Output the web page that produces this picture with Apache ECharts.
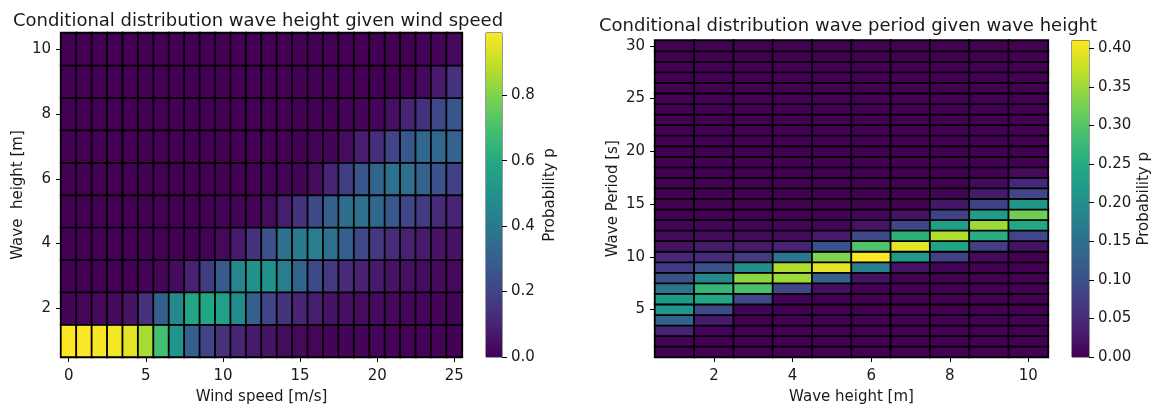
<!DOCTYPE html>
<html><head><meta charset="utf-8">
<script src="https://cdn.jsdelivr.net/npm/echarts@6/dist/echarts.min.js"></script>
<style>html,body{margin:0;padding:0;background:#fff}#c{width:1153px;height:406px}</style>
</head><body><div id="c"></div>
<script>
// ---------- data ----------
const windSpeeds = [0,1,2,3,4,5,6,7,8,9,10,11,12,13,14,15,16,17,18,19,20,21,22,23,24,25];
const waveHeightsL = [1,2,3,4,5,6,7,8,9,10];
const windTickLabels = [0,5,10,15,20,25];
const heightTickLabelsL = [2,4,6,8,10];

const waveHeightsR = [1,2,3,4,5,6,7,8,9,10];
const wavePeriods = [1,2,3,4,5,6,7,8,9,10,11,12,13,14,15,16,17,18,19,20,21,22,23,24,25,26,27,28,29,30];
const heightTickLabelsR = [2,4,6,8,10];
const periodTickLabels = [5,10,15,20,25,30];

const cbTicksL = [0,0.2,0.4,0.6,0.8];
const cbTicksR = [0,0.05,0.10,0.15,0.20,0.25,0.30,0.35,0.40];

// P(wave height | wind speed): one row per wave height (1..10), columns = wind speed 0..25
const pHeightGivenWind = [
  [0.99,0.985,0.98,0.975,0.95,0.86,0.69,0.51,0.30,0.20, 0.14,0.10,0.07,0.05,0.03,0.02,0.015,0.012,0.01,0.01, 0.008,0.007,0.006,0.005,0.005,0.004],
  [0.01,0.015,0.02,0.025,0.05,0.14,0.30,0.46,0.58,0.59, 0.56,0.47,0.30,0.20,0.15,0.10,0.08,0.05,0.04,0.03, 0.025,0.02,0.015,0.012,0.01,0.01],
  [0,0,0,0,0,0.005,0.01,0.03,0.09,0.18, 0.28,0.45,0.50,0.50,0.42,0.32,0.22,0.16,0.12,0.09, 0.07,0.05,0.04,0.03,0.025,0.02],
  [0,0,0,0,0,0,0,0,0,0.005, 0.02,0.07,0.15,0.25,0.37,0.41,0.42,0.37,0.30,0.21, 0.16,0.12,0.09,0.07,0.05,0.05],
  [0,0,0,0,0,0,0,0,0,0, 0.005,0.01,0.01,0.03,0.08,0.15,0.22,0.30,0.36,0.37, 0.33,0.27,0.21,0.17,0.12,0.10],
  [0,0,0,0,0,0,0,0,0,0, 0,0,0,0.005,0.005,0.01,0.03,0.10,0.18,0.26, 0.32,0.37,0.36,0.31,0.25,0.19],
  [0,0,0,0,0,0,0,0,0,0, 0,0,0,0,0,0,0.005,0.01,0.03,0.08, 0.13,0.20,0.27,0.33,0.33,0.31],
  [0,0,0,0,0,0,0,0,0,0, 0,0,0,0,0,0,0,0,0.005,0.01, 0.015,0.04,0.10,0.14,0.21,0.27],
  [0,0,0,0,0,0,0,0,0,0, 0,0,0,0,0,0,0,0,0,0, 0,0,0.005,0.02,0.07,0.14],
  [0,0,0,0,0,0,0,0,0,0, 0,0,0,0,0,0,0,0,0,0, 0,0,0,0.005,0.01,0.02]
];

// P(wave period | wave height): one array per wave height (1..10), entries = period 1..30 s
const pPeriodH1  = [0,0.005,0.04,0.13,0.21,0.22,0.16,0.10,0.07,0.045, 0.02,0.01,0.005,0,0,0,0,0,0,0, 0,0,0,0,0,0,0,0,0,0];
const pPeriodH2  = [0,0,0.005,0.03,0.09,0.24,0.27,0.19,0.10,0.05, 0.03,0.01,0.005,0,0,0,0,0,0,0, 0,0,0,0,0,0,0,0,0,0];
const pPeriodH3  = [0,0,0,0,0.005,0.09,0.29,0.34,0.20,0.07, 0.03,0.01,0.005,0,0,0,0,0,0,0, 0,0,0,0,0,0,0,0,0,0];
const pPeriodH4  = [0,0,0,0,0,0.005,0.085,0.35,0.36,0.16, 0.04,0.01,0.005,0,0,0,0,0,0,0, 0,0,0,0,0,0,0,0,0,0];
const pPeriodH5  = [0,0,0,0,0,0,0.015,0.13,0.395,0.33, 0.105,0.03,0.005,0,0,0,0,0,0,0, 0,0,0,0,0,0,0,0,0,0];
const pPeriodH6  = [0,0,0,0,0,0,0,0.02,0.175,0.41, 0.295,0.09,0.02,0.005,0,0,0,0,0,0, 0,0,0,0,0,0,0,0,0,0];
const pPeriodH7  = [0,0,0,0,0,0,0,0,0.02,0.22, 0.395,0.26,0.085,0.02,0,0,0,0,0,0, 0,0,0,0,0,0,0,0,0,0];
const pPeriodH8  = [0,0,0,0,0,0,0,0,0.005,0.075, 0.235,0.36,0.23,0.08,0.025,0.005,0,0,0,0, 0,0,0,0,0,0,0,0,0,0];
const pPeriodH9  = [0,0,0,0,0,0,0,0,0,0.01, 0.075,0.255,0.35,0.225,0.08,0.03,0.01,0,0,0, 0,0,0,0,0,0,0,0,0,0];
const pPeriodH10 = [0,0,0,0,0,0,0,0,0,0, 0.02,0.085,0.245,0.32,0.215,0.085,0.045,0.01,0,0, 0,0,0,0,0,0,0,0,0,0];
const pPeriodGivenHeight = [pPeriodH1,pPeriodH2,pPeriodH3,pPeriodH4,pPeriodH5,pPeriodH6,pPeriodH7,pPeriodH8,pPeriodH9,pPeriodH10];

// ---------- build ----------
const viridis = ['#440154','#482475','#414487','#355f8d','#2a788e','#21918c','#22a884','#44bf70','#7ad151','#bddf26','#fde725'];
const FONT = 'DejaVu Sans';
const TXT = '#1a1a1a';
const FS = 15;

const dataL = [];
pHeightGivenWind.forEach((row, i) => row.forEach((v, j) => dataL.push([j, i, v])));
const dataR = [];
pPeriodGivenHeight.forEach((col, j) => col.forEach((v, i) => dataR.push([j, i, v])));

const maxL = Math.max(...dataL.map(d => d[2]));
const maxR = Math.max(...dataR.map(d => d[2]));

function catAxis(gridIndex, cats, ticks, name, nameGap, isY) {
  return {
    type: 'category', gridIndex, data: cats.map(String), boundaryGap: true,
    axisLine: {show: false}, splitLine: {show: false},
    axisTick: {show: true, alignWithLabel: true, length: 5, lineStyle: {color: '#000', width: 1},
      interval: (i, v) => ticks.includes(+v)},
    axisLabel: {fontFamily: FONT, fontSize: FS, color: TXT, margin: isY ? 10 : 12,
      interval: (i, v) => ticks.includes(+v)},
    name, nameLocation: 'middle', nameGap, nameRotate: isY ? 90 : 0, nameMoveOverlap: false,
    nameTextStyle: {fontFamily: FONT, fontSize: FS, color: TXT}
  };
}
function cbAxis(gridIndex, max, ticks, digits, nameGap) {
  return {
    type: 'value', gridIndex, min: 0, max, position: 'right',
    splitLine: {show: false}, axisLine: {show: false},
    axisTick: {show: true, length: 5, customValues: ticks, lineStyle: {color: '#000', width: 1}},
    axisLabel: {customValues: ticks, formatter: v => v.toFixed(digits), fontFamily: FONT, fontSize: FS, color: TXT, margin: 9},
    name: 'Probability p', nameLocation: 'middle', nameRotate: 90, nameGap, nameMoveOverlap: false,
    nameTextStyle: {fontFamily: FONT, fontSize: FS, color: TXT}
  };
}
function gradient() {
  const n = viridis.length;
  return new echarts.graphic.LinearGradient(0, 0, 0, 1,
    viridis.map((c, k) => ({offset: 1 - k / (n - 1), color: c})));
}

const gridBorder = {show: true, borderColor: '#000', borderWidth: 1, backgroundColor: 'transparent',
  containLabel: false, outerBoundsMode: 'none'};
const option = {
  animation: false,
  backgroundColor: '#fff',
  title: [
    {text: 'Conditional distribution wave height given wind speed', left: 253, top: 7, textAlign: 'center',
     textStyle: {fontFamily: FONT, fontSize: 18, fontWeight: 'normal', color: TXT}},
    {text: 'Conditional distribution wave period given wave height', left: 843, top: 12, textAlign: 'center',
     textStyle: {fontFamily: FONT, fontSize: 18, fontWeight: 'normal', color: TXT}}
  ],
  grid: [
    Object.assign({left: 61, top: 33, width: 401, height: 324}, gridBorder),
    Object.assign({left: 486, top: 33, width: 16, height: 324}, gridBorder, {borderColor: '#333'}),
    Object.assign({left: 655, top: 40.5, width: 393, height: 316.5}, gridBorder),
    Object.assign({left: 1072, top: 40.5, width: 17, height: 316.5}, gridBorder, {borderColor: '#333'})
  ],
  xAxis: [
    catAxis(0, windSpeeds, windTickLabels, 'Wind speed [m/s]', 33, false),
    {type: 'category', gridIndex: 1, data: ['cb'], show: false},
    catAxis(2, waveHeightsR, heightTickLabelsR, 'Wave height [m]', 33, false),
    {type: 'category', gridIndex: 3, data: ['cb'], show: false}
  ],
  yAxis: [
    catAxis(0, waveHeightsL, heightTickLabelsL, 'Wave  height [m]', 35, true),
    cbAxis(1, maxL, cbTicksL, 1, 41),
    catAxis(2, wavePeriods, periodTickLabels, 'Wave Period [s]', 34, true),
    cbAxis(3, maxR, cbTicksR, 2, 48)
  ],
  visualMap: [
    {type: 'continuous', show: false, seriesIndex: 0, min: 0, max: maxL, inRange: {color: viridis}},
    {type: 'continuous', show: false, seriesIndex: 2, min: 0, max: maxR, inRange: {color: viridis}}
  ],
  series: [
    {type: 'heatmap', xAxisIndex: 0, yAxisIndex: 0, data: dataL, silent: true,
     itemStyle: {borderColor: '#000', borderWidth: 1.8}, emphasis: {disabled: true}},
    {type: 'bar', xAxisIndex: 1, yAxisIndex: 1, data: [maxL], barWidth: '100%', silent: true,
     itemStyle: {color: gradient()}},
    {type: 'heatmap', xAxisIndex: 2, yAxisIndex: 2, data: dataR, silent: true,
     itemStyle: {borderColor: '#000', borderWidth: 1.8}, emphasis: {disabled: true}},
    {type: 'bar', xAxisIndex: 3, yAxisIndex: 3, data: [maxR], barWidth: '100%', silent: true,
     itemStyle: {color: gradient()}}
  ]
};
const chart = echarts.init(document.getElementById('c'), null, {renderer: 'canvas'});
chart.setOption(option);
</script></body></html>
